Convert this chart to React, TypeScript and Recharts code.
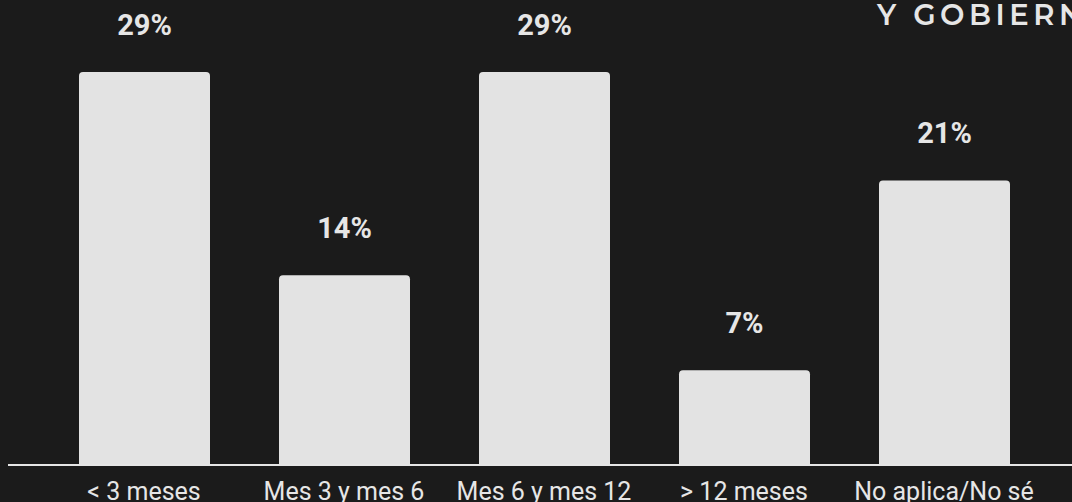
import React from 'react';
import { BarChart, Bar, XAxis, YAxis, LabelList } from 'recharts';

const categories = ['< 3 meses', 'Mes 3 y mes 6', 'Mes 6 y mes 12', '> 12 meses', 'No aplica/No sé'];
const shares = [29, 14, 29, 7, 21];

const BG = '#1b1b1b';
const BAR = '#e3e3e3';
const TEXT = '#e6e6e6';

const data = categories.map((name, i) => ({ name, value: shares[i] }));

function CategoryTick(props: any) {
  const { x, y, payload } = props;
  return (
    <text
      x={x}
      y={y + 27}
      textAnchor="middle"
      fill={TEXT}
      fontFamily="Roboto, 'Liberation Sans', sans-serif"
      fontSize={25}
    >
      {payload.value}
    </text>
  );
}

function PercentLabel(props: any) {
  const { x, y, width, value } = props;
  return (
    <text
      x={x + width / 2}
      y={y - 37}
      textAnchor="middle"
      fill={TEXT}
      fontFamily="Roboto, 'Liberation Sans', sans-serif"
      fontWeight={700}
      fontSize={29}
    >
      {value}%
    </text>
  );
}

export default function App() {
  return (
    <div
      style={{
        position: 'absolute',
        left: 0,
        top: 0,
        width: 1072,
        height: 502,
        background: BG,
        overflow: 'hidden',
      }}
    >
      <div
        style={{
          position: 'absolute',
          left: 877,
          top: -3,
          whiteSpace: 'nowrap',
          color: TEXT,
          fontFamily: "Montserrat, Lato, 'DejaVu Sans', sans-serif",
          fontSize: 29,
          fontWeight: 600,
          letterSpacing: 4.5,
          lineHeight: '36px',
        }}
      >
        Y GOBIERNO
      </div>
      <BarChart
        width={1072}
        height={502}
        data={data}
        margin={{ top: 72, right: 0, left: 8, bottom: 0 }}
      >
        <YAxis hide domain={[0, 29]} />
        <XAxis
          dataKey="name"
          height={37}
          padding={{ left: 36, right: 28 }}
          axisLine={{ stroke: TEXT, strokeWidth: 2 }}
          tickLine={false}
          tick={<CategoryTick />}
          interval={0}
        />
        <Bar dataKey="value" fill={BAR} barSize={131} radius={[4, 4, 0, 0]} isAnimationActive={false}>
          <LabelList dataKey="value" content={<PercentLabel />} />
        </Bar>
      </BarChart>
    </div>
  );
}
